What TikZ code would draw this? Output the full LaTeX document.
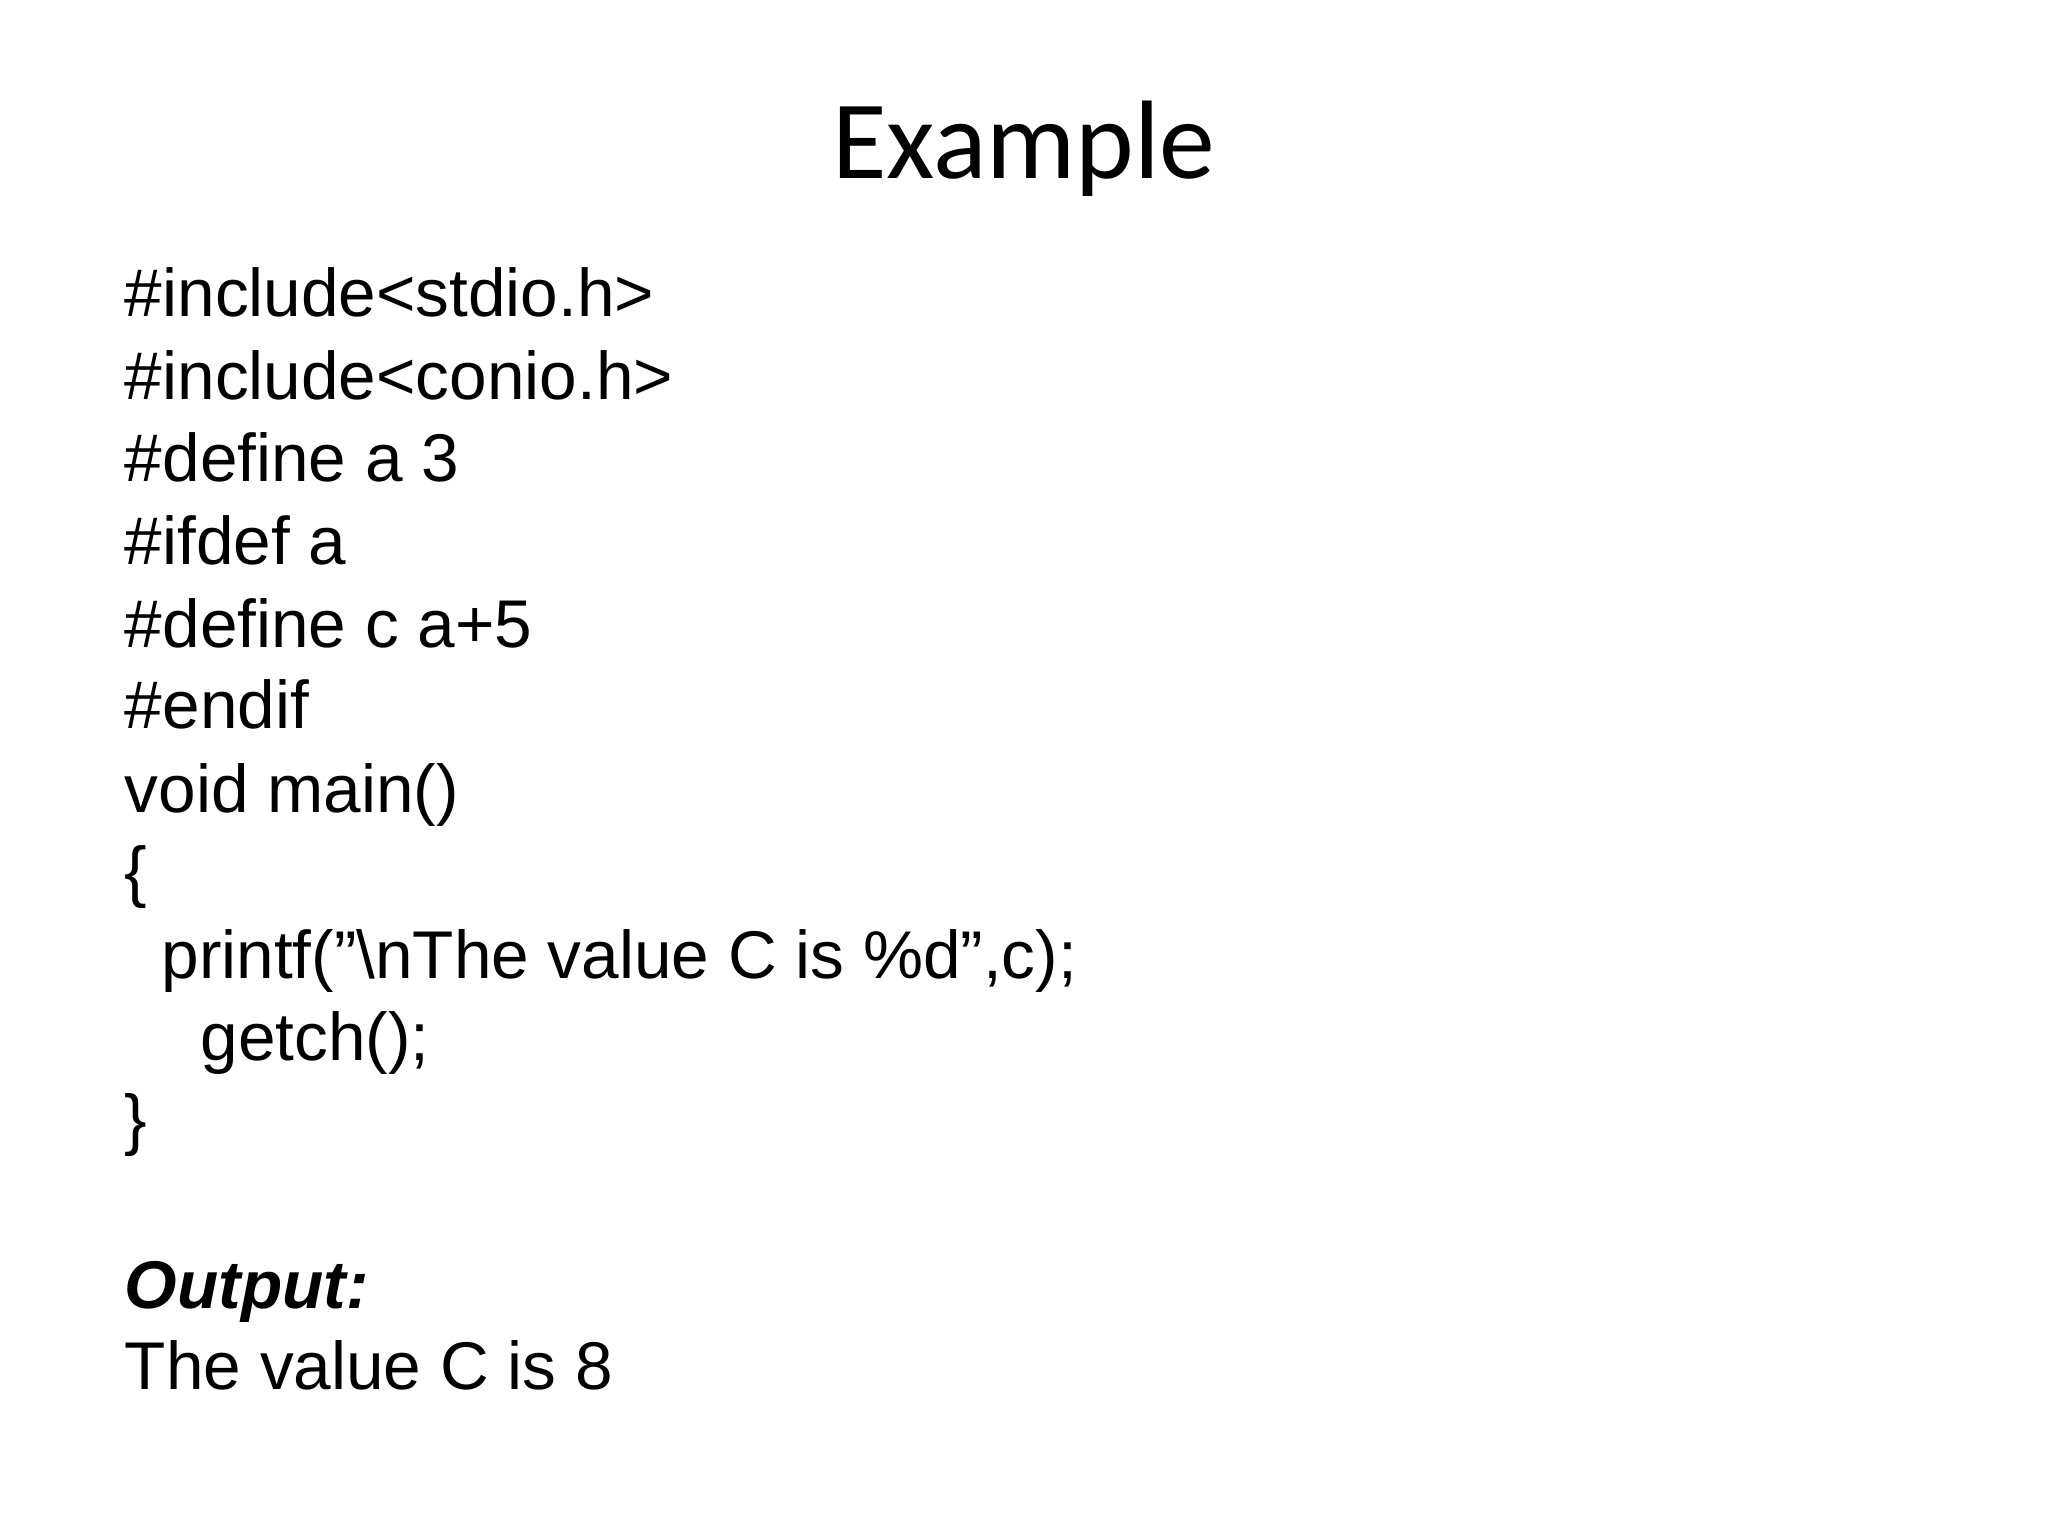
\documentclass[tikz,border=0pt]{standalone}
\usepackage{fontspec}
\setmainfont{Liberation Sans}
\newfontfamily\titlefont{Carlito}
\begin{document}
\begin{tikzpicture}[x=0.01cm,y=-0.01cm]
\tikzset{code/.style={anchor=base west,inner sep=0pt,font=\fontsize{14.7pt}{18pt}\selectfont}}
\useasboundingbox[fill=white] (0,0) rectangle (1568,1176);
\node[anchor=base,inner sep=0pt,font=\titlefont\fontsize{24.3pt}{29pt}\selectfont] (title) at (784,137) {Example};
\node[code] (l1) at (95,242) {\#include<stdio.h>};
\node[code] (l2) at (95,306) {\#include<conio.h>};
\node[code] (l3) at (95,369) {\#define a 3};
\node[code] (l4) at (95,432) {\#ifdef a};
\node[code] (l5) at (95,496) {\#define c a+5};
\node[code] (l6) at (95,558) {\#endif};
\node[code] (l7) at (95,622) {void main()};
\node[code] (l8) at (95,685) {\{};
\node[code] (l9) at (123,749) {printf("\textbackslash nThe value C is \%d",c);};
\node[code] (l10) at (153,812) {getch();};
\node[code] (l11) at (95,875) {\}};
\node[code,font=\fontsize{14.7pt}{18pt}\selectfont\bfseries\itshape] (out) at (95,1002) {Output:};
\node[code] (res) at (95,1064) {The value C is 8};
\end{tikzpicture}
\end{document}
